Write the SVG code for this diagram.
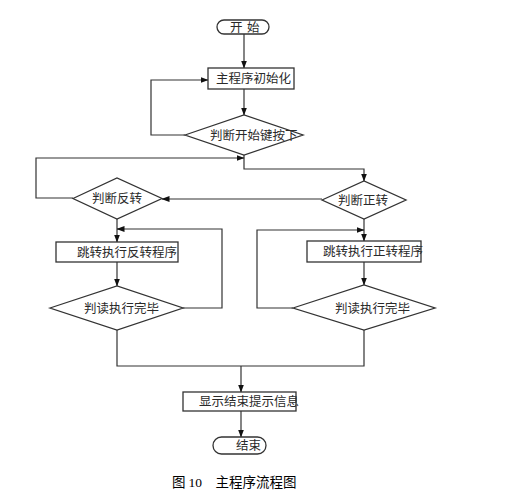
<svg xmlns="http://www.w3.org/2000/svg" width="507" height="500" viewBox="0 0 507 500">
<style>
.shape{fill:#fff;stroke:#333;stroke-width:1.3}
.ln{fill:none;stroke:#333;stroke-width:1.2}
.t{font-family:"Noto Sans CJK SC","Noto Sans CJK JP",sans-serif;font-size:12.5px;fill:#2a2a2a}
.cap{font-family:"Noto Sans CJK SC",sans-serif;font-size:13.5px;fill:#000}
</style>
<defs>
<marker id="ah" markerUnits="userSpaceOnUse" markerWidth="8" markerHeight="8" viewBox="0 0 8 8" refX="7.5" refY="4" orient="auto">
<path d="M0,1 L8,4 L0,7 Z" fill="#111"/>
</marker>
</defs>
<rect width="507" height="500" fill="#fff"/>
<g id="connectors">
<path class="ln" d="M244,34 V68" marker-end="url(#ah)"/>
<path class="ln" d="M244,89 V115" marker-end="url(#ah)"/>
<path class="ln" d="M185,135 H151 V80 H208" marker-end="url(#ah)"/>
<path class="ln" d="M244,155 V169 H364 V181" marker-end="url(#ah)"/>
<path class="ln" d="M73,198 H36 V158 H244" marker-end="url(#ah)"/>
<path class="ln" d="M322,199 H162" marker-end="url(#ah)"/>
<path class="ln" d="M117,219 V242" marker-end="url(#ah)"/>
<path class="ln" d="M183,308 H222 V229 H117" marker-end="url(#ah)"/>
<path class="ln" d="M117,262 V286" marker-end="url(#ah)"/>
<path class="ln" d="M364,219 V241" marker-end="url(#ah)"/>
<path class="ln" d="M293,308 H257 V230 H364" marker-end="url(#ah)"/>
<path class="ln" d="M364,262 V285" marker-end="url(#ah)"/>
<path class="ln" d="M117,330 V366 H364 V330"/>
<path class="ln" d="M241,366 V392" marker-end="url(#ah)"/>
<path class="ln" d="M241,411 V437" marker-end="url(#ah)"/>
</g>
<g id="start">
<rect class="shape" x="217" y="20" width="52" height="14" rx="7"/>
<text class="t" y="31.5" font-size="12"><tspan x="230">开</tspan><tspan x="247">始</tspan></text>
</g>
<g id="init">
<rect class="shape" x="208" y="68" width="86" height="21"/>
<text class="t" x="216" y="83">主程序初始化</text>
</g>
<g id="checkStart">
<path class="shape" d="M185,135 L244,115 L303,135 L244,155 Z"/>
<text class="t" x="210" y="139.5">判断开始键按下</text>
</g>
<g id="checkReverse">
<path class="shape" d="M73,198.5 L117,178 L162,198.5 L117,219 Z"/>
<text class="t" x="92" y="203">判断反转</text>
</g>
<g id="checkForward">
<path class="shape" d="M322,200 L364,181 L406,200 L364,219 Z"/>
<text class="t" x="338" y="204.5">判断正转</text>
</g>
<g id="runReverse">
<rect class="shape" x="56" y="242" width="122" height="20"/>
<text class="t" x="77" y="256.5">跳转执行反转程序</text>
</g>
<g id="runForward">
<rect class="shape" x="307" y="241" width="114" height="21"/>
<text class="t" x="323" y="256">跳转执行正转程序</text>
</g>
<g id="doneReverse">
<path class="shape" d="M50,308 L117,286 L183,308 L117,330 Z"/>
<text class="t" x="84" y="312.5">判读执行完毕</text>
</g>
<g id="doneForward">
<path class="shape" d="M293,308 L364,285 L435,308 L364,330 Z"/>
<text class="t" x="335" y="312.5">判读执行完毕</text>
</g>
<g id="showEnd">
<rect class="shape" x="183" y="392" width="113" height="19"/>
<text class="t" x="199" y="406">显示结束提示信息</text>
</g>
<g id="end">
<rect class="shape" x="213" y="437" width="53" height="17" rx="8.5"/>
<text class="t" x="236" y="450" font-size="12">结束</text>
</g>
<g id="caption">
<text class="cap" x="172" y="487">图 <tspan font-family="Liberation Serif,serif">10</tspan>　主程序流程图</text>
</g>
</svg>
